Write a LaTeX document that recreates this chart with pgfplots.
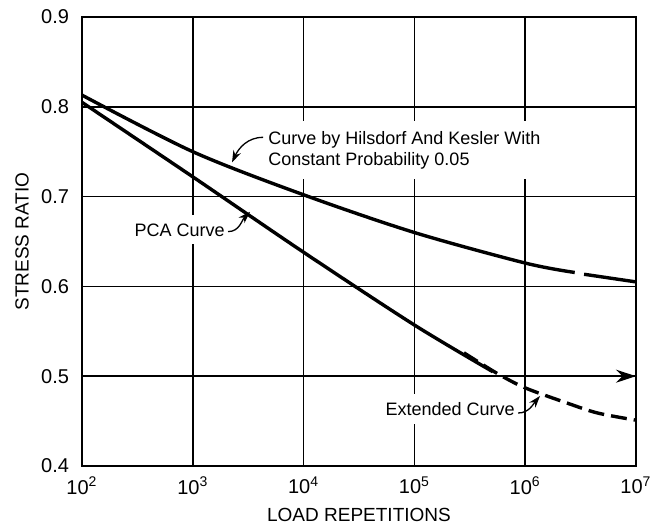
\documentclass[border=0pt]{standalone}
\usepackage{pgfplots}
\pgfplotsset{compat=1.18}
\usepackage{fontspec}
\setmainfont{Liberation Sans}
\usetikzlibrary{arrows.meta}

\begin{document}
\begin{tikzpicture}
\begin{axis}[
  xmode=log,
  scale only axis,
  width=277pt, height=224.5pt,
  xmin=1e2, xmax=1e7,
  ymin=0.4, ymax=0.9,
  xtick={1e2,1e3,1e4,1e5,1e6,1e7},
  xticklabels={10\textsuperscript{2},10\textsuperscript{3},10\textsuperscript{4},10\textsuperscript{5},10\textsuperscript{6},10\textsuperscript{7}},
  ytick={0.4,0.5,0.6,0.7,0.8,0.9},
  yticklabels={0.4,0.5,0.6,0.7,0.8,0.9},
  grid=major,
  major grid style={black, line width=0.85pt},
  axis line style={line width=1.3pt},
  tick style={draw=none},
  tick label style={font=\fontsize{10}{11}\selectfont},
  xticklabel style={yshift=-2pt},
  yticklabel style={xshift=-3pt},
  label style={font=\fontsize{9.5}{11}\selectfont},
  xlabel={LOAD REPETITIONS},
  ylabel={STRESS RATIO},
  xlabel style={at={(axis description cs:0.5,-0.109)}, anchor=center},
  ylabel style={at={(axis description cs:-0.108,0.5)}, anchor=center},
  clip=false,
]
% labels first, so that they cut the grid lines behind them
\node[fill=white, inner xsep=1pt, inner ysep=5pt, anchor=west, align=left,
  font=\fontsize{9}{10.5}\selectfont] at (axis cs:4581,0.752)
  {Curve by Hilsdorf And Kesler With\\Constant Probability 0.05};
\node[fill=white, inner xsep=1pt, inner ysep=4pt, anchor=east,
  font=\fontsize{9}{10.5}\selectfont] at (axis cs:2037,0.663) {PCA Curve};
\node[fill=white, inner xsep=1pt, inner ysep=4pt, anchor=east,
  font=\fontsize{9}{10.5}\selectfont] at (axis cs:843000,0.4635) {Extended Curve};

\draw[line width=0.65pt, -{Stealth[length=6pt,width=4pt]}]
  (axis cs:4305,0.766) to[out=180,in=65] (axis cs:2259,0.738);
\draw[line width=0.65pt, -{Stealth[length=6pt,width=4pt]}]
  (axis cs:2080,0.661) to[out=0,in=225] (axis cs:3280,0.683);
\draw[line width=0.65pt, -{Stealth[length=6pt,width=4pt]}]
  (axis cs:862000,0.459) to[out=0,in=230] (axis cs:1361000,0.478);

% arrow on the 0.5 line
\addplot[line width=1pt, -{Stealth[length=10pt,width=6.5pt]}]
  coordinates {(1e5,0.5)(1e7,0.5)};

% Hilsdorf and Kesler, probability 0.05
\addplot[line width=1.7pt, smooth]
  coordinates {(1e2,0.813)(1e3,0.750)(1e4,0.702)(1e5,0.660)(1e6,0.626)(2.8e6,0.6155)};
\addplot[line width=1.7pt, smooth]
  coordinates {(3.4e6,0.6135)(1e7,0.605)};

% PCA curve
\addplot[line width=1.7pt, smooth]
  coordinates {(1e2,0.805)(1e3,0.722)(1e4,0.638)(1e5,0.557)(5.1e5,0.505)};

% extended curve
\addplot[line width=1.7pt, dash pattern=on 8pt off 3.5pt, smooth]
  coordinates {(2.8e5,0.526)(5.6e5,0.503)(1e6,0.487)(2.4e6,0.470)(4.5e6,0.459)(1e7,0.451)};
\end{axis}
% page margins as in the reference
\pgfresetboundingbox
\path ([shift={(-41pt,-31.5pt)}]current axis.south west)
  rectangle ([shift={(7pt,8.5pt)}]current axis.north east);
\end{tikzpicture}
\end{document}
